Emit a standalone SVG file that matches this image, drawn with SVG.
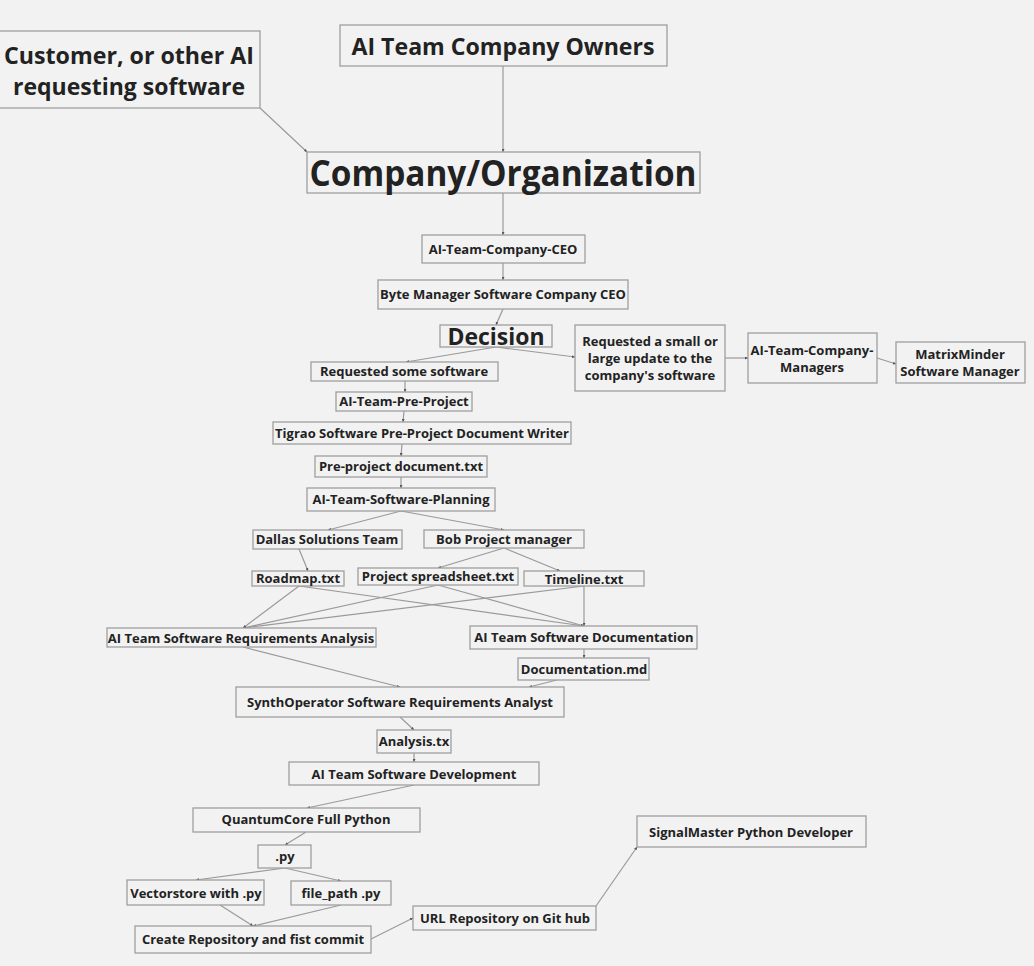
<svg xmlns="http://www.w3.org/2000/svg" width="1034" height="966" viewBox="0 0 1034 966">
<defs>
<style>
.bx{fill:#f2f2f2;stroke:#9e9e9e;stroke-width:1.3}
text{font-family:"Open Sans","Liberation Sans",sans-serif;font-weight:700;fill:#222;text-anchor:middle}
.s{font-size:13px}
.m{font-size:24px}
.l{font-size:36px}
.c line{stroke:#9a9a9a;stroke-width:1.2;marker-end:url(#a)}
.c line.n{marker-end:none}
</style>
<marker id="a" viewBox="0 0 4 4" refX="4" refY="2" markerWidth="3" markerHeight="3" orient="auto" markerUnits="userSpaceOnUse"><path d="M0,0L4,2L0,4z" fill="#555"/></marker>
</defs>
<rect width="1034" height="966" fill="#f2f2f2"/>
<g class="c" id="connectors">
<line x1="260" y1="108" x2="307" y2="152"/>
<line x1="503" y1="66" x2="503" y2="152"/>
<line x1="503" y1="193" x2="503" y2="235"/>
<line x1="503" y1="263" x2="503" y2="280"/>
<line x1="503" y1="309" x2="496" y2="325"/>
<line x1="496" y1="347" x2="406" y2="362"/>
<line x1="496" y1="347" x2="575" y2="357"/>
<line x1="725" y1="358" x2="748" y2="358"/>
<line x1="877" y1="358" x2="896" y2="364"/>
<line x1="405" y1="381" x2="405" y2="392"/>
<line x1="404" y1="411" x2="403" y2="422"/>
<line x1="402" y1="444" x2="401" y2="456"/>
<line x1="401" y1="477" x2="401" y2="488"/>
<line x1="401" y1="511" x2="328" y2="530"/>
<line x1="401" y1="511" x2="504" y2="530"/>
<line x1="299" y1="549" x2="308" y2="571"/>
<line class="n" x1="315" y1="548.5" x2="328" y2="548.5"/>
<line x1="504" y1="548" x2="438" y2="568"/>
<line x1="504" y1="548" x2="560" y2="571"/>
<line x1="299" y1="586" x2="243" y2="628"/>
<line x1="299" y1="586" x2="584" y2="626"/>
<line x1="438" y1="585" x2="243" y2="628"/>
<line x1="438" y1="585" x2="584" y2="626"/>
<line x1="584" y1="586" x2="243" y2="628"/>
<line x1="584" y1="586" x2="584" y2="626"/>
<line x1="243" y1="647" x2="400" y2="687"/>
<line x1="584" y1="649" x2="584" y2="658"/>
<line x1="557" y1="680" x2="529" y2="687"/>
<line x1="400" y1="717" x2="414" y2="730"/>
<line x1="414" y1="753" x2="414" y2="762"/>
<line x1="414" y1="785" x2="307" y2="808"/>
<line x1="306" y1="832" x2="285" y2="845"/>
<line x1="285" y1="868" x2="196" y2="880"/>
<line x1="285" y1="868" x2="341" y2="881"/>
<line x1="220" y1="905" x2="253" y2="926"/>
<line x1="341" y1="905" x2="253" y2="926"/>
<line x1="371" y1="939" x2="413" y2="918"/>
<line x1="596" y1="906" x2="637" y2="847"/>
</g>
<g id="customer"><rect class="bx" x="-2" y="31" width="262" height="77"/><text class="m" x="129" y="64" textLength="250" lengthAdjust="spacingAndGlyphs">Customer, or other AI</text><text class="m" x="129" y="95" textLength="232" lengthAdjust="spacingAndGlyphs">requesting software</text></g>
<g id="owners"><rect class="bx" x="340" y="25" width="327" height="41"/><text class="m" x="503" y="55" textLength="303" lengthAdjust="spacingAndGlyphs">AI Team Company Owners</text></g>
<g id="company"><rect class="bx" x="307" y="152" width="393" height="41"/><text class="l" x="503" y="186" textLength="387" lengthAdjust="spacingAndGlyphs">Company/Organization</text></g>
<g id="ceo"><rect class="bx" x="422" y="235" width="163" height="28"/><text class="s" x="503" y="254">AI-Team-Company-CEO</text></g>
<g id="byte"><rect class="bx" x="378" y="280" width="250" height="29"/><text class="s" x="503" y="299">Byte Manager Software Company CEO</text></g>
<g id="decision"><rect class="bx" x="440" y="325" width="112" height="22"/><text class="m" x="496" y="345" textLength="97" lengthAdjust="spacingAndGlyphs">Decision</text></g>
<g id="req-some"><rect class="bx" x="311" y="362" width="187" height="19"/><text class="s" x="404" y="376">Requested some software</text></g>
<g id="req-update"><rect class="bx" x="575" y="325" width="150" height="66"/><text class="s" x="650" y="346">Requested a small or</text><text class="s" x="650" y="363">large update to the</text><text class="s" x="650" y="380">company's software</text></g>
<g id="managers"><rect class="bx" x="748" y="333" width="129" height="50"/><text class="s" x="812" y="355">AI-Team-Company-</text><text class="s" x="812" y="372">Managers</text></g>
<g id="matrix"><rect class="bx" x="896" y="342" width="129" height="41"/><text class="s" x="960" y="359">MatrixMinder</text><text class="s" x="960" y="376">Software Manager</text></g>
<g id="preproject"><rect class="bx" x="336" y="392" width="136" height="19"/><text class="s" x="404" y="406">AI-Team-Pre-Project</text></g>
<g id="tigrao"><rect class="bx" x="273" y="422" width="298" height="22"/><text class="s" x="422" y="438">Tigrao Software Pre-Project Document Writer</text></g>
<g id="predoc"><rect class="bx" x="315" y="456" width="172" height="21"/><text class="s" x="401" y="471">Pre-project document.txt</text></g>
<g id="planning"><rect class="bx" x="307" y="488" width="188" height="23"/><text class="s" x="401" y="504">AI-Team-Software-Planning</text></g>
<g id="dallas"><rect class="bx" x="253" y="530" width="149" height="19"/><text class="s" x="327" y="544">Dallas Solutions Team</text></g>
<g id="bob"><rect class="bx" x="424" y="530" width="160" height="18"/><text class="s" x="504" y="544">Bob Project manager</text></g>
<g id="roadmap"><rect class="bx" x="252" y="571" width="92" height="15"/><text class="s" x="298" y="583">Roadmap.txt</text></g>
<g id="spreadsheet"><rect class="bx" x="358" y="568" width="160" height="17"/><text class="s" x="438" y="581">Project spreadsheet.txt</text></g>
<g id="timeline"><rect class="bx" x="524" y="571" width="120" height="15"/><text class="s" x="584" y="584">Timeline.txt</text></g>
<g id="req-analysis"><rect class="bx" x="107" y="628" width="269" height="19"/><text class="s" x="241" y="643">AI Team Software Requirements Analysis</text></g>
<g id="documentation"><rect class="bx" x="470" y="626" width="227" height="23"/><text class="s" x="584" y="642">AI Team Software Documentation</text></g>
<g id="docmd"><rect class="bx" x="518" y="658" width="131" height="22"/><text class="s" x="584" y="674">Documentation.md</text></g>
<g id="synth"><rect class="bx" x="236" y="687" width="328" height="30"/><text class="s" x="400" y="707">SynthOperator Software Requirements Analyst</text></g>
<g id="analysis"><rect class="bx" x="377" y="730" width="74" height="23"/><text class="s" x="414" y="746">Analysis.tx</text></g>
<g id="development"><rect class="bx" x="289" y="762" width="250" height="23"/><text class="s" x="414" y="779">AI Team Software Development</text></g>
<g id="quantum"><rect class="bx" x="193" y="808" width="227" height="24"/><text class="s" x="306" y="824">QuantumCore Full Python</text></g>
<g id="py"><rect class="bx" x="258" y="845" width="53" height="23"/><text class="s" x="285" y="861">.py</text></g>
<g id="vectorstore"><rect class="bx" x="127" y="880" width="137" height="25"/><text class="s" x="196" y="898">Vectorstore with .py</text></g>
<g id="filepath"><rect class="bx" x="291" y="881" width="100" height="24"/><text class="s" x="341" y="898">file_path .py</text></g>
<g id="create"><rect class="bx" x="135" y="926" width="236" height="27"/><text class="s" x="253" y="944">Create Repository and fist commit</text></g>
<g id="url"><rect class="bx" x="413" y="906" width="183" height="24"/><text class="s" x="505" y="923">URL Repository on Git hub</text></g>
<g id="signal"><rect class="bx" x="637" y="816" width="229" height="31"/><text class="s" x="751" y="837">SignalMaster Python Developer</text></g>
</svg>
